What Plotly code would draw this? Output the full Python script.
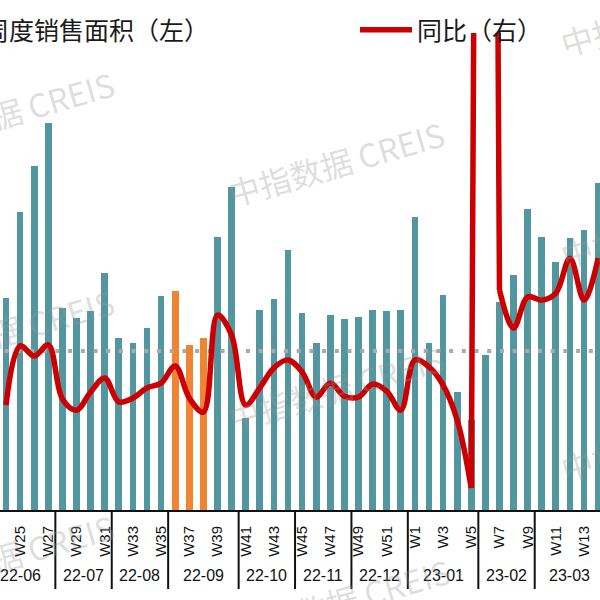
"""Weekly sales area (bars, left) and YoY change (line, right), 22-06 to 23-03."""

import plotly.graph_objects as go


WEEKS = (
    ["W23", "W24", "W25", "W26", "W27", "W28", "W29", "W30", "W31", "W32", "W33",
     "W34", "W35", "W36", "W37", "W38", "W39", "W40", "W41", "W42", "W43", "W44",
     "W45", "W46", "W47", "W48", "W49", "W50", "W51", "W52"]
    + ["W1", "W2", "W3", "W4", "W5", "W6", "W7", "W8", "W9", "W10", "W11", "W12",
       "W13", "W14"]
)
MONTHS = ["22-06", "22-07", "22-08", "22-09", "22-10", "22-11", "22-12",
          "23-01", "23-02", "23-03"]
WEEKS_PER_MONTH = [5, 4, 4, 5, 4, 4, 4, 5, 4, 5]

# weekly sales area (left axis); W23 is outside the visible part of the chart
AREA = [None, 213, 300, 346, 389, 203, 193, 200, 238, 173, 168, 183, 215,
        220, 166, 173, 275, 325, 93, 201, 212, 262, 198, 168, 196, 192,
        194, 201, 200, 201, 295, 168, 216, 119, 91, 156, 209, 236, 303,
        275, 250, 274, 282, 329]
# year-on-year change, % (right axis)
YOY = [None, -17.0, 1.6, -1.6, 1.9, -15.1, -18.6, -12.9, -8.5, -16.0, -14.8,
       -11.6, -10.1, -4.7, -14.8, -19.2, 11.3, 5.0, -17.0, -11.6, -5.3, -2.8,
       -6.6, -14.5, -10.1, -14.2, -14.5, -10.4, -12.6, -18.6, -2.8, -5.0,
       -10.7, -21.7, -43.1, 800.0, 19.2, 7.2, 17.0, 16.0, 18.2, 29.2, 16.0,
       29.2]
HIGHLIGHT_WEEKS = ["W36", "W37", "W38"]
SPIKE_WEEK = "W6"   # drawn straight; a spline overshoots badly around it

TEAL = "#5296A0"
ORANGE = "#EF8432"
RED = "#CC0000"
CJK_FONT = "Noto Sans CJK SC"
LATIN_FONT = "Liberation Sans, Arial, sans-serif"

WIDTH = 600
HEIGHT = 600
MARGIN_T = 33
MARGIN_B = 90
PLOT_H = HEIGHT - MARGIN_T - MARGIN_B

WATERMARK = "中指数据 CREIS"
WATERMARK_SPOTS = [(5, 113), (5, 331), (5, 556), (335, 163), (335, 388),
                   (342, 600), (668, 13), (668, 225), (668, 438)]


def py_to_paper(py):
    return (HEIGHT - MARGIN_B - py) / PLOT_H


def build_figure():
    idx = list(range(len(WEEKS)))
    colors = [ORANGE if w in HIGHLIGHT_WEEKS else TEAL for w in WEEKS]

    spike = WEEKS.index(SPIKE_WEEK)
    smooth_yoy = [None if i == spike else v for i, v in enumerate(YOY)]
    spike_x = idx[spike - 1:spike + 2]
    spike_y = YOY[spike - 1:spike + 2]

    fig = go.Figure()
    fig.add_trace(go.Bar(
        x = idx, y = AREA, name = "周度销售面积（左）",
        marker = dict(color = colors, line = dict(width = 0)),
        width = 0.48, legend = "legend",
    ))
    fig.add_trace(go.Scatter(
        x = idx, y = [0] * len(idx), yaxis = "y2", mode = "lines",
        line = dict(color = "#AAAAAA", width = 4, dash = "4px,8.7px"),
        showlegend = False, hoverinfo = "skip",
    ))
    fig.add_trace(go.Scatter(
        x = spike_x, y = spike_y, yaxis = "y2", mode = "lines",
        line = dict(color = RED, width = 5.5), showlegend = False,
    ))
    fig.add_trace(go.Scatter(
        x = idx, y = smooth_yoy, yaxis = "y2", mode = "lines", name = "同比（右）",
        line = dict(color = RED, width = 5.5, shape = "spline", smoothing = 1),
        legend = "legend2",
    ))

    # odd weeks carry a tick label
    tickvals = [i for i, w in enumerate(WEEKS) if int(w[1:]) % 2 == 1]
    ticktext = [WEEKS[i] for i in tickvals]

    shapes = []
    annotations = []
    start = 0
    for month, n in zip(MONTHS, WEEKS_PER_MONTH):
        end = start + n - 1
        annotations.append(dict(
            x = (start + end) / 2, xref = "x", y = py_to_paper(575), yref = "paper",
            text = month, showarrow = False, xanchor = "center", yanchor = "middle",
            font = dict(family = LATIN_FONT, size = 16, color = "#111111"),
        ))
        shapes.append(dict(
            type = "line", xref = "x", yref = "paper", x0 = end + 0.5, x1 = end + 0.5,
            y0 = 0, y1 = py_to_paper(589), line = dict(color = "#111111", width = 2),
        ))
        start = end + 1

    for px, py in WATERMARK_SPOTS:
        annotations.append(dict(
            x = px / WIDTH, y = py_to_paper(py), xref = "paper", yref = "paper",
            text = WATERMARK, showarrow = False, textangle = -16,
            xanchor = "center", yanchor = "middle",
            font = dict(family = CJK_FONT, size = 32, color = "rgba(150,150,150,0.33)"),
        ))

    legend_font = dict(family = CJK_FONT, size = 25, color = "#1A1A1A")
    fig.update_layout(
        width = WIDTH, height = HEIGHT,
        margin = dict(l = 0, r = 0, t = MARGIN_T, b = MARGIN_B, autoexpand = False),
        paper_bgcolor = "white", plot_bgcolor = "white",
        bargap = 0,
        xaxis = dict(
            range = [0.574, 43.13], showgrid = False, zeroline = False,
            showline = True, linecolor = "#111111", linewidth = 2,
            tickvals = tickvals, ticktext = ticktext, tickangle = -90, ticks = "",
            ticklabelstandoff = 8,
            tickfont = dict(family = LATIN_FONT, size = 15, color = "#111111"),
        ),
        yaxis = dict(range = [0, 480], visible = False),
        yaxis2 = dict(range = [-50, 100], overlaying = "y", side = "right", visible = False),
        legend = dict(
            orientation = "h", x = -56 / WIDTH, xanchor = "left",
            y = py_to_paper(30), yanchor = "middle", font = legend_font,
            bgcolor = "rgba(0,0,0,0)",
        ),
        legend2 = dict(
            orientation = "h", x = 355 / WIDTH, xanchor = "left", itemwidth = 52,
            y = py_to_paper(30), yanchor = "middle", font = legend_font,
            bgcolor = "rgba(0,0,0,0)",
        ),
        shapes = shapes,
        annotations = annotations,
    )
    return fig


def main():
    fig = build_figure()
    # the page's default body margin would shift the figure by 8px
    fig.write_html(
        "out.html",
        config = {"displayModeBar": False},
        post_script = "document.body.style.margin = '0px';",
    )


if __name__ == "__main__":
    main()
